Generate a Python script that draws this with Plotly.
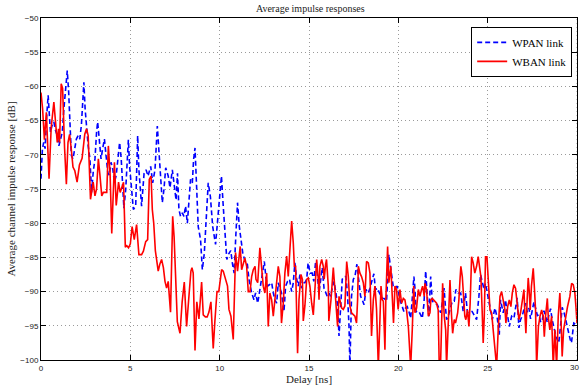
import plotly.graph_objects as go

# ---- data ----
wban_delay = [0.00,0.09,0.19,0.30,0.45,0.57,0.72,0.80,0.91,0.98,1.04,1.13,1.21,1.32,1.42,1.51,1.60,1.70,1.79,1.89,2.02,2.15,2.30,2.45,2.55,2.64,2.77,2.92,3.02,3.11,3.21,3.30,3.40,3.49,3.68,3.77,3.87,3.96,4.11,4.21,4.34,4.43,4.62,4.72,4.80,4.90,5.00,5.10,5.22,5.35,5.48,5.63,5.73,5.86,5.97,6.06,6.16,6.23,6.31,6.40,6.50,6.56,6.65,6.75,6.85,6.94,7.03,7.12,7.25,7.37,7.45,7.55,7.63,7.78,7.90,8.02,8.15,8.27,8.39,8.45,8.52,8.62,8.72,8.84,8.99,9.08,9.20,9.30,9.40,9.51,9.58,9.64,9.73,9.85,9.95,
    10.11,10.20,10.30,10.44,10.52,10.63,10.76,10.89,11.00,11.08,11.15,11.23,11.32,11.41,11.51,11.60,11.70,11.79,11.88,11.98,12.03,12.13,12.25,12.35,12.44,12.53,12.63,12.72,12.81,12.91,13.00,13.09,13.19,13.28,13.37,13.46,13.56,13.65,13.75,13.84,13.93,14.03,14.12,14.18,14.25,14.31,14.36,14.44,14.55,14.63,14.68,14.77,14.87,14.96,
    15.05,15.15,15.24,15.33,15.43,15.52,15.56,15.61,15.71,15.80,15.85,15.93,15.98,16.08,16.11,16.23,16.36,16.45,16.60,16.68,16.77,16.83,16.92,17.01,17.11,17.20,17.29,17.38,17.57,17.66,17.72,17.76,17.85,17.94,18.04,18.13,18.22,18.32,18.41,18.50,18.60,18.69,18.78,18.88,18.97,19.03,19.10,19.16,19.25,19.30,19.40,19.47,19.58,19.66,19.73,19.81,19.90,19.99,
    20.09,20.18,20.28,20.37,20.46,20.56,20.61,20.69,20.78,20.86,20.93,21.02,21.12,21.21,21.30,21.36,21.45,21.49,21.58,21.68,21.77,21.82,21.90,22.01,22.14,22.23,22.29,22.36,22.42,22.48,22.57,22.65,22.70,22.80,22.89,22.98,23.04,23.13,23.20,23.32,23.39,23.45,23.50,23.58,23.63,23.72,23.78,23.87,23.95,24.02,24.10,24.19,24.28,24.38,24.47,24.56,24.62,24.69,24.75,24.81,24.88,24.96,
    25.03,25.13,25.22,25.31,25.41,25.50,25.59,25.69,25.78,25.87,25.97,26.02,26.12,26.21,26.30,26.38,26.47,26.56,26.66,26.75,26.84,26.93,27.03,27.08,27.14,27.21,27.27,27.32,27.38,27.45,27.55,27.61,27.68,27.74,27.84,27.93,28.02,28.11,28.17,28.24,28.34,28.39,28.48,28.58,28.67,28.76,28.86,28.95,29.04,29.10,29.17,29.25,29.36,29.47,29.60,29.70,29.79,29.88,29.94,30.00]
wban_db = [-60.9,-63.3,-67.8,-63.8,-73.5,-66.0,-62.3,-65.0,-68.2,-66.2,-68.2,-59.6,-60.3,-69.0,-74.3,-68.2,-67.0,-69.3,-71.8,-72.3,-74.0,-71.5,-70.5,-67.0,-66.2,-67.2,-76.5,-74.0,-76.0,-75.0,-70.6,-73.0,-76.0,-75.5,-75.5,-68.7,-73.0,-81.5,-71.1,-77.4,-74.0,-75.5,-74.0,-83.5,-83.3,-83.6,-83.0,-80.5,-82.4,-80.2,-84.6,-84.6,-84.1,-82.7,-82.4,-73.6,-73.1,-78.0,-80.0,-84.0,-86.5,-87.0,-86.0,-85.3,-86.5,-88.5,-89.5,-88.5,-93.0,-79.0,-82.0,-90.0,-94.4,-96.1,-91.5,-88.6,-95.1,-91.0,-87.0,-86.5,-87.3,-98.6,-91.5,-94.0,-88.6,-93.4,-93.7,-93.7,-93.0,-91.5,-94.4,-98.3,-94.4,-90.0,-90.0,
    -86.8,-87.0,-87.8,-89.2,-92.6,-93.6,-97.0,-84.3,-87.0,-84.8,-83.4,-86.8,-85.8,-85.1,-86.3,-90.0,-90.0,-87.8,-86.8,-86.3,-88.2,-88.7,-83.6,-86.3,-89.2,-90.2,-87.3,-95.1,-90.2,-91.2,-93.6,-91.2,-88.7,-86.3,-87.8,-94.6,-91.7,-87.3,-84.8,-87.8,-83.9,-79.7,-82.9,-86.3,-86.3,-92.6,-99.0,-91.2,-87.5,-88.2,-94.3,-92.1,-88.2,-88.0,
    -89.2,-91.7,-93.4,-89.7,-85.3,-88.2,-91.2,-86.3,-85.3,-86.3,-88.2,-86.0,-85.3,-89.2,-94.3,-91.2,-86.5,-89.7,-95.1,-90.7,-91.7,-92.4,-92.6,-92.1,-85.6,-87.8,-92.1,-93.1,-93.6,-94.6,-91.2,-86.3,-87.3,-87.8,-88.7,-90.7,-85.6,-85.8,-87.3,-96.5,-91.2,-89.2,-92.6,-101.0,-94.1,-89.2,-91.2,-91.4,-98.5,-91.2,-83.4,-88.7,-86.3,-91.2,-94.6,-89.2,-89.7,-92.6,
    -89.7,-91.7,-91.0,-91.2,-92.7,-95.1,-98.0,-101.0,-95.6,-89.2,-93.1,-92.4,-89.7,-90.7,-89.7,-89.2,-90.7,-88.8,-89.7,-93.6,-93.1,-91.2,-91.0,-91.4,-91.7,-92.7,-101.0,-101.0,-93.1,-88.8,-93.6,-95.6,-101.0,-93.1,-88.3,-93.6,-96.1,-94.1,-94.6,-93.1,-91.2,-88.3,-86.3,-87.8,-89.7,-93.6,-94.1,-92.7,-95.1,-91.7,-84.9,-85.8,-87.3,-86.3,-84.9,-86.3,-87.8,-92.7,-97.5,-93.6,-84.9,-84.9,
    -88.3,-92.7,-93.1,-95.6,-98.0,-101.0,-95.6,-90.7,-90.0,-91.2,-92.7,-94.6,-92.2,-91.2,-92.2,-90.2,-89.0,-89.5,-92.2,-94.1,-93.1,-91.2,-89.7,-93.1,-96.1,-91.2,-88.0,-89.7,-92.7,-89.2,-86.6,-89.2,-92.7,-101.0,-95.1,-93.6,-92.7,-93.6,-96.6,-93.6,-91.0,-93.6,-95.6,-93.6,-101.0,-95.6,-101.0,-93.6,-90.2,-93.6,-99.5,-95.6,-93.6,-92.2,-90.7,-88.8,-89.0,-90.2,-92.2,-94.6]

wpan_delay = [0.00,0.08,0.15,0.23,0.32,0.40,0.47,0.53,0.62,0.72,0.81,0.91,1.00,1.09,1.19,1.28,1.38,1.47,1.55,1.62,1.70,1.79,1.89,1.98,2.08,2.17,2.26,2.34,2.40,2.47,2.55,2.64,2.74,2.83,2.92,3.02,3.11,3.17,3.26,3.36,3.45,3.55,3.64,3.74,3.83,3.92,4.02,4.11,4.21,4.30,4.40,4.49,4.58,4.64,4.74,4.89,4.96,5.07,5.17,5.30,5.41,5.48,5.63,5.77,5.88,5.99,6.14,6.25,6.38,6.51,6.61,6.70,6.79,6.88,6.98,7.12,7.22,7.35,7.47,7.56,7.64,7.72,7.81,7.91,8.00,8.09,8.19,8.28,8.37,8.47,8.54,8.62,8.67,8.73,8.80,8.93,9.03,9.14,9.21,9.36,9.48,9.61,9.77,9.92,
    10.01,10.10,10.20,10.30,10.40,10.50,10.62,10.72,10.81,10.90,11.00,11.10,11.20,11.30,11.42,11.55,11.64,11.79,11.92,12.01,12.13,12.22,12.31,12.40,12.50,12.59,12.68,12.78,12.91,13.00,13.09,13.19,13.28,13.37,13.46,13.60,13.69,13.80,13.91,14.03,14.12,14.21,14.31,14.40,14.49,14.58,14.68,14.77,14.87,14.95,
    15.07,15.18,15.27,15.37,15.46,15.56,15.65,15.74,15.84,15.93,16.02,16.12,16.21,16.30,16.40,16.51,16.60,16.68,16.77,16.86,16.97,17.07,17.16,17.24,17.29,17.38,17.48,17.57,17.68,17.78,17.89,17.98,18.08,18.19,18.32,18.41,18.50,18.63,18.72,18.84,18.94,19.03,19.12,19.21,19.34,19.47,19.58,19.71,19.82,19.94,
    20.09,20.20,20.31,20.40,20.50,20.60,20.69,20.78,20.87,20.93,20.99,21.07,21.15,21.25,21.34,21.43,21.53,21.62,21.71,21.81,21.90,22.05,22.18,22.28,22.37,22.47,22.56,22.63,22.70,22.80,22.89,23.02,23.13,23.22,23.35,23.49,23.63,23.76,23.87,24.00,24.13,24.25,24.38,24.51,24.60,24.69,24.80,24.88,24.98,
    25.07,25.17,25.26,25.41,25.54,25.65,25.72,25.87,26.00,26.09,26.21,26.34,26.47,26.56,26.65,26.75,26.84,26.93,27.03,27.12,27.22,27.31,27.40,27.49,27.59,27.68,27.78,27.87,27.97,28.06,28.15,28.24,28.34,28.43,28.52,28.61,28.70,28.80,28.89,28.98,29.08,29.17,29.27,29.36,29.45,29.54,29.62,29.69,29.76,29.82,30.00]
wpan_db = [-73.5,-69.1,-68.2,-69.1,-64.3,-61.3,-64.3,-66.7,-65.7,-65.2,-66.4,-67.2,-68.7,-67.7,-66.7,-63.3,-59.9,-57.7,-60.9,-66.7,-70.1,-70.6,-69.1,-67.7,-67.2,-67.7,-65.7,-60.9,-59.4,-63.3,-66.2,-68.7,-70.6,-75.5,-72.6,-70.6,-66.7,-65.2,-67.7,-70.6,-69.1,-67.7,-70.1,-72.6,-73.0,-71.1,-72.1,-74.0,-73.0,-71.1,-68.2,-70.6,-76.0,-77.8,-75.1,-67.8,-71.7,-75.1,-78.0,-77.5,-67.2,-72.2,-77.5,-72.7,-72.2,-73.1,-71.7,-74.1,-72.2,-65.8,-69.7,-73.1,-77.0,-75.1,-71.9,-73.1,-74.8,-72.2,-75.1,-76.6,-72.7,-78.0,-79.0,-78.5,-79.0,-77.5,-80.0,-76.6,-73.6,-74.1,-70.7,-69.0,-72.2,-76.1,-80.5,-82.4,-86.8,-84.4,-80.5,-74.1,-76.1,-80.5,-83.1,-78.0,
    -75.5,-73.1,-77.5,-82.0,-85.3,-84.5,-84.0,-86.0,-87.3,-82.0,-77.0,-80.5,-83.0,-84.5,-85.5,-86.0,-88.2,-90.2,-91.2,-90.2,-91.7,-90.2,-88.5,-86.8,-85.6,-88.0,-89.2,-89.0,-88.7,-90.2,-91.2,-91.7,-88.7,-89.5,-90.2,-92.9,-89.2,-88.5,-88.2,-90.0,-88.7,-85.8,-88.2,-89.2,-87.5,-89.5,-88.7,-88.7,-88.2,-85.8,
    -87.3,-87.3,-88.5,-85.6,-87.3,-90.2,-88.7,-86.5,-89.5,-90.0,-90.7,-90.2,-90.7,-89.5,-88.5,-90.2,-92.1,-96.5,-91.7,-88.2,-87.8,-87.8,-90.7,-95.1,-101.0,-90.7,-88.2,-87.8,-86.0,-88.7,-90.7,-91.2,-91.9,-89.7,-90.2,-89.5,-88.5,-87.4,-89.7,-89.5,-90.2,-90.7,-91.0,-91.0,-91.4,-84.6,-87.0,-89.2,-89.5,-89.2,
    -91.2,-92.0,-92.9,-92.4,-92.2,-93.0,-93.9,-91.0,-87.8,-89.5,-92.9,-93.0,-92.9,-93.4,-93.9,-91.9,-87.0,-90.7,-93.6,-87.8,-91.4,-91.7,-91.9,-92.5,-93.1,-91.5,-89.5,-92.0,-94.1,-93.5,-92.7,-91.4,-91.4,-89.7,-90.2,-90.2,-92.9,-90.2,-93.1,-92.9,-92.9,-93.6,-94.1,-90.7,-87.5,-88.5,-89.7,-88.8,-90.2,
    -91.2,-92.8,-94.1,-92.4,-93.9,-96.3,-91.2,-93.1,-91.2,-93.1,-95.1,-93.6,-93.9,-92.4,-90.9,-95.3,-94.1,-93.6,-92.5,-91.7,-93.0,-92.4,-94.0,-92.9,-91.5,-92.4,-93.5,-93.4,-94.5,-94.1,-92.8,-93.6,-94.5,-93.4,-92.5,-94.1,-95.2,-96.3,-97.0,-97.5,-95.0,-92.3,-93.0,-94.1,-95.2,-96.3,-97.0,-97.5,-96.0,-94.6,-94.9]

series_names = ["WPAN link", "WBAN link"]
x_ticks = [0, 5, 10, 15, 20, 25, 30]
y_ticks = [-100, -95, -90, -85, -80, -75, -70, -65, -60, -55, -50]

serif = "Liberation Serif, Times New Roman, serif"
sans = "Liberation Sans, Arial, sans-serif"

fig = go.Figure()
fig.add_trace(go.Scatter(x=wpan_delay, y=wpan_db, mode="lines", name=series_names[0],
                         line=dict(color="#0000FF", width=1.6, dash="5px,3px")))
fig.add_trace(go.Scatter(x=wban_delay, y=wban_db, mode="lines", name=series_names[1],
                         line=dict(color="#FF0000", width=1.6)))

axis_common = dict(showline=True, linecolor="black", linewidth=1, mirror="ticks",
                   ticks="inside", ticklen=5, tickcolor="black", tickwidth=1,
                   showgrid=True, gridcolor="#9a9a9a", gridwidth=1, griddash="1px,3px",
                   zeroline=False, tickfont=dict(family=sans, size=8, color="#222"))

fig.update_xaxes(range=[0, 30], tickvals=x_ticks[:-1],
                 title=dict(text="Delay [ns]", font=dict(family=serif, size=11, color="#222"), standoff=2),
                 **axis_common)
fig.update_yaxes(range=[-100, -50], tickvals=y_ticks,
                 title=dict(text="Average channel impulse response [dB]", font=dict(family=serif, size=11, color="#222"), standoff=2),
                 **axis_common)

# last x tick (30) and its label sit on the right edge of the figure
fig.add_shape(type="line", xref="x", yref="paper", x0=x_ticks[-1], x1=x_ticks[-1], y0=0, y1=1,
              line=dict(color="#9a9a9a", width=1, dash="1px,3px"))
fig.add_annotation(x=x_ticks[-1], xref="x", y=0, yref="paper", yanchor="top", yshift=-1, xshift=-3,
                   text=str(x_ticks[-1]), showarrow=False, font=dict(family=sans, size=8, color="#222"))

fig.update_layout(
    width=580, height=389,
    margin=dict(l=41, r=3, t=18, b=29),
    paper_bgcolor="white", plot_bgcolor="white",
    title=dict(text="Average impulse responses", x=0.535, xanchor="center", y=0.977, yanchor="middle",
               font=dict(family=serif, size=10, color="#222")),
    legend=dict(x=0.991, xanchor="right", y=0.974, yanchor="top",
                bgcolor="white", bordercolor="black", borderwidth=1,
                font=dict(family=serif, size=11, color="black"),
                tracegroupgap=0, itemwidth=30),
    showlegend=True,
)

fig.write_html("out.html")
